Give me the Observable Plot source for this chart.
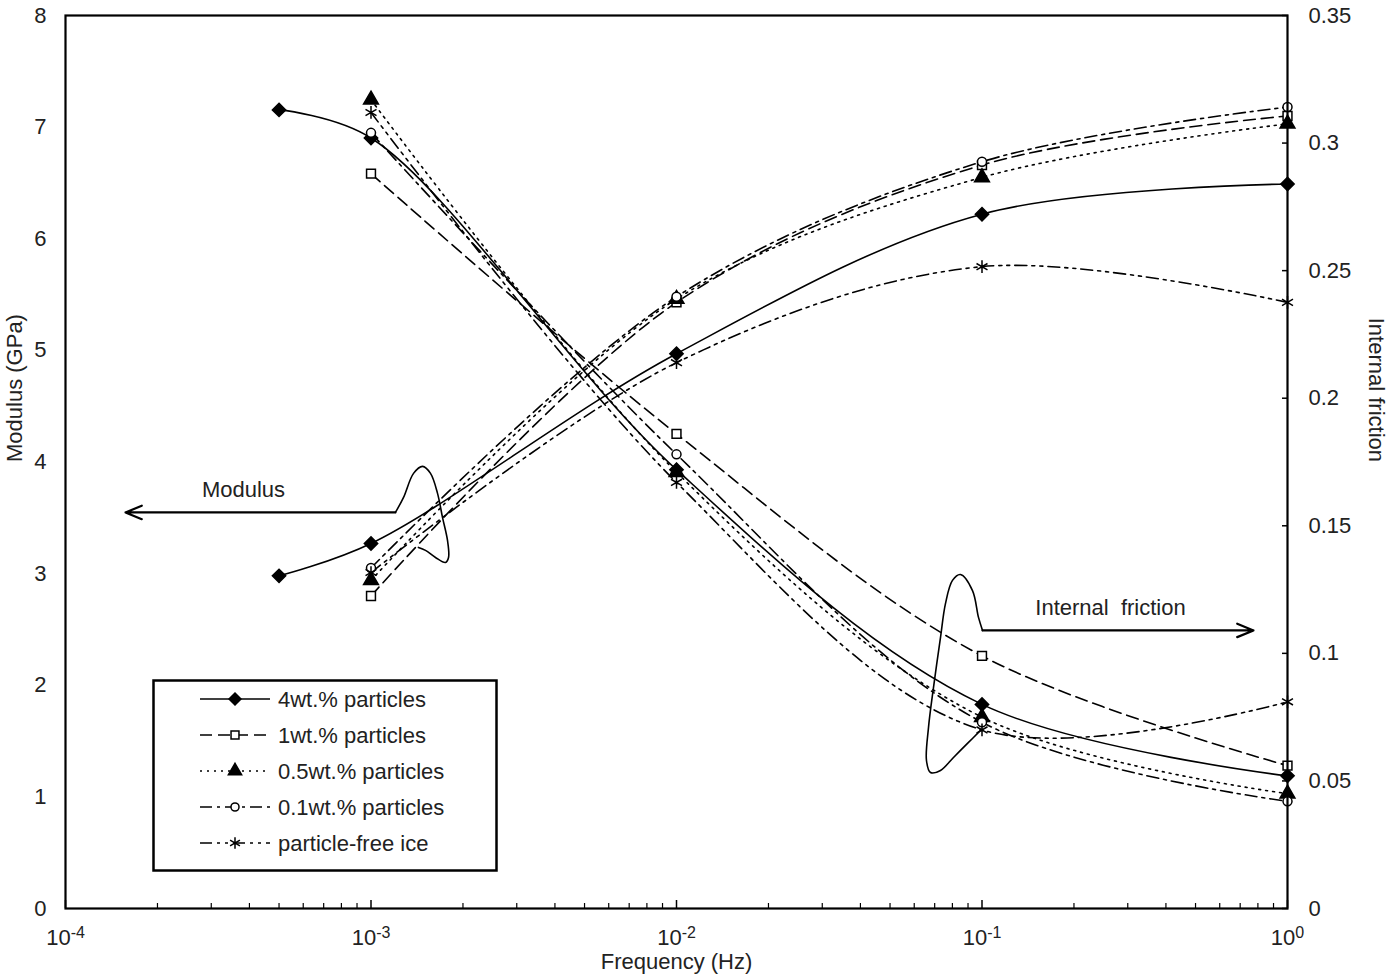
<!DOCTYPE html>
<html><head>
<meta charset="utf-8">
<script src="https://cdn.jsdelivr.net/npm/d3@7"></script>
<script src="https://cdn.jsdelivr.net/npm/@observablehq/plot@0.6"></script>
<style>
body{margin:0;background:#fff;font-family:"Liberation Sans",Arial,sans-serif}
#wrap{position:relative;width:1400px;height:978px}
#legend{position:absolute;left:152px;top:679px}
</style>
</head><body><div id="wrap"></div>
<script>
// ---- data ----
const frequencies = [0.0005, 0.001, 0.01, 0.1, 1];           // Hz
const seriesNames = ["4wt.% particles","1wt.% particles","0.5wt.% particles","0.1wt.% particles","particle-free ice"];
// Modulus (GPa), null = not measured
const modulus4wt   = [2.98, 3.27, 4.97, 6.22, 6.49];
const modulus1wt   = [null, 2.80, 5.43, 6.66, 7.10];
const modulus05wt  = [null, 2.94, 5.46, 6.55, 7.03];
const modulus01wt  = [null, 3.05, 5.48, 6.69, 7.18];
const modulusFree  = [null, 3.01, 4.89, 5.75, 5.43];
// Internal friction
const friction4wt  = [0.313, 0.302, 0.172, 0.080, 0.052];
const friction1wt  = [null, 0.288, 0.186, 0.099, 0.056];
const friction05wt = [null, 0.317, 0.171, 0.075, 0.045];
const friction01wt = [null, 0.304, 0.178, 0.073, 0.042];
const frictionFree = [null, 0.312, 0.167, 0.070, 0.081];
// axis ticks
const xTicks = [1e-4, 1e-3, 1e-2, 1e-1, 1];
const modulusTicks = [0,1,2,3,4,5,6,7,8];
const frictionTicks = [0,0.05,0.1,0.15,0.2,0.25,0.3,0.35];
// annotation callouts (data coordinates)
const modLoopF = [1.202e-3,1.278e-3,1.378e-3,1.475e-3,1.566e-3,1.651e-3,1.714e-3,1.780e-3,1.794e-3,1.753e-3,1.626e-3,1.508e-3,1.430e-3];
const modLoopM = [3.548,3.683,3.898,3.961,3.898,3.719,3.504,3.297,3.145,3.100,3.145,3.208,3.235];
const modArrow = {f1:1.202e-3, f2:1.572e-4, m:3.548};
const modLabel = {f:3.824e-4, m:3.746, text:"Modulus"};
const ifLoopF = [0.1004,0.09739,0.09309,0.08504,0.08005,0.07593,0.07313,0.06937,0.06681,0.06580,0.06782,0.07313,0.08066,0.08964,0.09888];
const ifLoopV = [0.1090,0.1141,0.1246,0.1309,0.1286,0.1195,0.1062,0.0866,0.0709,0.0580,0.0533,0.0541,0.0592,0.0647,0.0698];
const ifArrow = {f1:0.1004, f2:0.7738, v:0.1090};
const ifLabel = {f:0.2634, v:0.1176, text:"Internal  friction"};

// ---- styles ----
const styles = [
  {dash:null,            symbol:"diamond2", d3sym:d3.symbolDiamond2, fill:"black", r:6},
  {dash:"12,6",          symbol:"square",   d3sym:d3.symbolSquare,   fill:"white", r:5},
  {dash:"2,5",           symbol:"triangle", d3sym:d3.symbolTriangle, fill:"black", r:5.5},
  {dash:"12,5,3,5",      symbol:"circle",   d3sym:d3.symbolCircle,   fill:"white", r:4.5},
  {dash:"12,5,3,5,3,5",  symbol:"asterisk", d3sym:d3.symbolAsterisk, fill:"none",  r:6}
];
const modSets = [modulus4wt, modulus1wt, modulus05wt, modulus01wt, modulusFree];
const fricSets = [friction4wt, friction1wt, friction05wt, friction01wt, frictionFree];
const toMod = v => v * 8 / 0.35;

const rows = [];
seriesNames.forEach((s,k) => frequencies.forEach((f,i) => {
  if (modSets[k][i] != null) rows.push({s, k, f, m: modSets[k][i], fr: fricSets[k][i]});
}));
const modLoop = modLoopF.map((f,i) => ({f, m: modLoopM[i]}));
const ifLoop = ifLoopF.map((f,i) => ({f, m: toMod(ifLoopV[i])}));

const minorTicks = [];
[1e-4,1e-3,1e-2,1e-1].forEach(d => { for (let j=2;j<10;j++) minorTicks.push(d*j); });

const marks = [];
styles.forEach((st,k) => {
  const data = rows.filter(r => r.k === k);
  marks.push(Plot.line(data, {x:"f", y:"m", curve:"catmull-rom", stroke:"black", strokeWidth:1.6, strokeDasharray:st.dash}));
  marks.push(Plot.line(data, {x:"f", y:d => toMod(d.fr), curve:"catmull-rom", stroke:"black", strokeWidth:1.6, strokeDasharray:st.dash}));
});
styles.forEach((st,k) => {
  const data = rows.filter(r => r.k === k);
  const o = {x:"f", symbol:st.symbol, r:st.r, stroke:"black", strokeWidth:1.5, fill:st.fill};
  marks.push(Plot.dot(data, {...o, y:"m"}));
  marks.push(Plot.dot(data, {...o, y:d => toMod(d.fr)}));
});

const chart = Plot.plot({
  width: 1400, height: 978,
  marginLeft: 65, marginRight: 113, marginTop: 15, marginBottom: 70,
  style: {fontFamily: '"Liberation Sans", Arial, sans-serif', fontSize: "22px", background: "white", color: "#222"},
  x: {type: "log", domain: [1e-4, 1], axis: null},
  y: {domain: [0, 8], axis: null},
  marks: [
    ...marks,
    Plot.line(modLoop, {x:"f", y:"m", curve:"catmull-rom", stroke:"black", strokeWidth:1.6}),
    Plot.line(ifLoop, {x:"f", y:"m", curve:"catmull-rom", stroke:"black", strokeWidth:1.6}),
    Plot.arrow([modArrow], {x1:"f1", x2:"f2", y1:"m", y2:"m", stroke:"black", strokeWidth:2.2, headLength:12, headAngle:45}),
    Plot.arrow([ifArrow], {x1:"f1", x2:"f2", y1:d=>toMod(d.v), y2:d=>toMod(d.v), stroke:"black", strokeWidth:2.2, headLength:12, headAngle:45}),
    Plot.text([modLabel], {x:"f", y:"m", text:"text", fontSize:22, fill:"#222"}),
    Plot.text([ifLabel], {x:"f", y:d=>toMod(d.v), text:"text", fontSize:22, fill:"#222"}),
    Plot.axisX(xTicks, {anchor:"bottom", tickSize:-8, tickPadding:29, tickFormat:d => "10^" + Math.round(Math.log10(d)), label:null, stroke:"black", strokeWidth:1.5}),
    Plot.axisX(minorTicks, {anchor:"bottom", tickSize:-5, tickFormat:() => "", label:null, stroke:"black", strokeWidth:1.2}),
    Plot.axisY(modulusTicks, {anchor:"left", tickSize:0, tickPadding:19, tickFormat:d => String(d), label:null}),
    Plot.axisY(frictionTicks.map(toMod), {anchor:"right", tickSize:-6, tickPadding:27, tickFormat:d => String(+(d*0.35/8).toFixed(2)), label:null, stroke:"black", strokeWidth:1.5}),
    Plot.frame({stroke:"black", strokeWidth:2.2}),
    Plot.text(["Frequency (Hz)"], {frameAnchor:"bottom", dy:60, fontSize:22, fill:"#222"}),
    Plot.text(["Modulus (GPa)"], {frameAnchor:"left", dx:-51, rotate:-90, fontSize:22, fill:"#222"}),
    Plot.text(["Internal friction"], {frameAnchor:"right", dx:89, rotate:90, fontSize:22, fill:"#222"})
  ]
});
document.getElementById("wrap").appendChild(chart);

// superscript exponents on the x tick labels
d3.select(chart).selectAll('g[aria-label="x-axis tick label"] text').each(function() {
  const t = d3.select(this);
  const [base, exp] = t.text().split("^");
  t.text(null);
  t.append("tspan").text(base);
  t.append("tspan").attr("dy", "-0.45em").attr("font-size", "16px").text(exp);
});

// legend inside the plot
const leg = d3.select("#wrap").append("svg").attr("id","legend").attr("width",347).attr("height",194);
leg.append("rect").attr("x",1.5).attr("y",1.5).attr("width",343).attr("height",190).attr("fill","white").attr("stroke","black").attr("stroke-width",2.5);
seriesNames.forEach((name,k) => {
  const st = styles[k], y = 20 + k*36;
  leg.append("line").attr("x1",48).attr("x2",118).attr("y1",y).attr("y2",y).attr("stroke","black").attr("stroke-width",1.6).attr("stroke-dasharray",st.dash);
  leg.append("path").attr("d", d3.symbol(st.d3sym, Math.PI*st.r*st.r*0.8)()).attr("transform",`translate(83,${y})`)
    .attr("fill",st.fill).attr("stroke","black").attr("stroke-width",1.5);
  leg.append("text").attr("x",126).attr("y",y).attr("dy","0.35em").attr("font-size","22px").attr("fill","#222")
    .attr("font-family",'"Liberation Sans", Arial, sans-serif').text(name);
});
</script>
</body></html>
